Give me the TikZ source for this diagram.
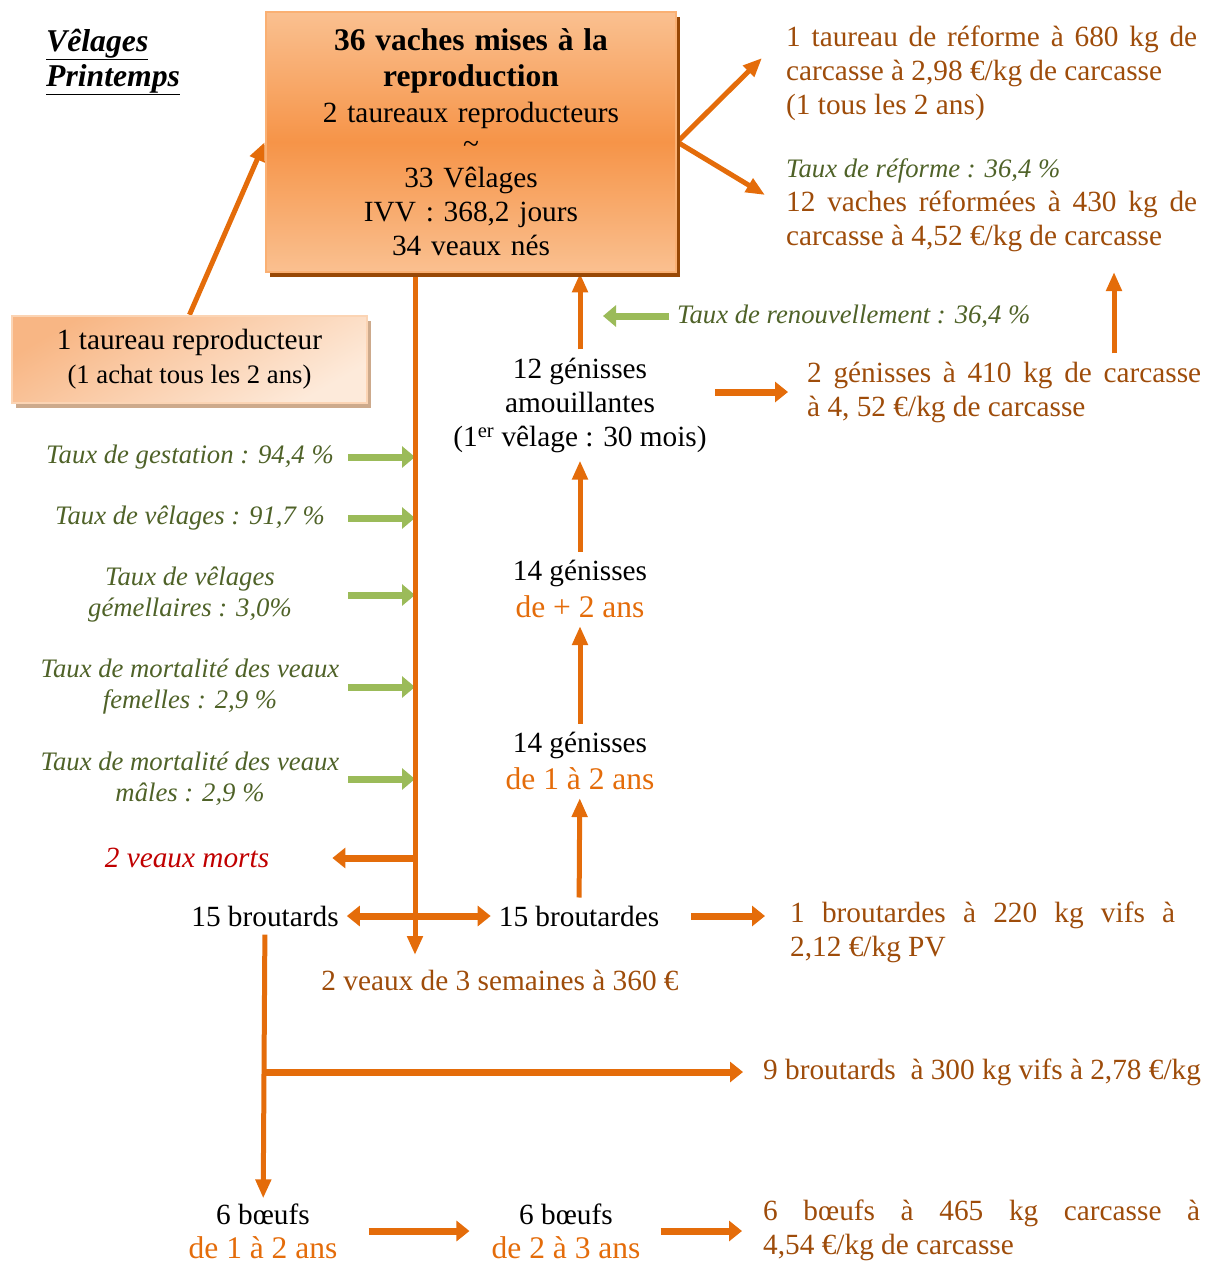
\documentclass[tikz,border=0pt]{standalone}
\usepackage{fontspec}
\setmainfont{Liberation Serif}
\usetikzlibrary{arrows.meta,shadows,backgrounds}

\definecolor{floworange}{RGB}{228,108,10}
\definecolor{salebrown}{RGB}{158,76,10}
\definecolor{rategreen}{RGB}{79,98,40}
\definecolor{cuegreen}{RGB}{155,187,89}
\definecolor{deadred}{RGB}{192,0,0}
\definecolor{herdlight}{RGB}{250,192,144}
\definecolor{herdmid}{RGB}{246,148,72}
\definecolor{herdedge}{RGB}{250,176,115}
\definecolor{herdshadow}{RGB}{152,72,6}
\definecolor{bullpeach}{RGB}{248,182,132}
\definecolor{bulllight}{RGB}{253,234,218}
\definecolor{bulledge}{RGB}{251,212,180}
\definecolor{bullshadow}{RGB}{205,170,140}

\newcommand{\spreadline}[2]{\makebox[#1][s]{#2}}
\newcommand{\herdhead}[1]{{\fontsize{31.5}{36}\selectfont\bfseries #1}}
\newcommand{\agespan}[1]{{\fontsize{31.5}{37}\selectfont\color{floworange}#1}}

\begin{document}
\begin{tikzpicture}[
    x=1pt, y=-1pt,
    every node/.style={inner sep=8pt, font=\fontsize{29.3}{34}\selectfont},
    count/.style={align=center},
    sale/.style={align=left, anchor=west, text=salebrown},
    rate/.style={align=center, text=rategreen, font=\fontsize{26.7}{31}\selectfont\itshape},
    flow/.style={draw=floworange, line width=5pt, -{Triangle[length=19pt,width=15pt]}},
    push/.style={draw=floworange, line width=7pt, -{Triangle[length=13pt,width=20pt]}},
    twoway/.style={push, {Triangle[length=13pt,width=20pt]}-{Triangle[length=13pt,width=20pt]}},
    cue/.style={draw=cuegreen, line width=7pt, -{Triangle[length=13pt,width=21pt]}}
]
\useasboundingbox (0,0) rectangle (1211,1266);

\node[align=left, anchor=west, inner sep=0pt,
      font=\fontsize{31.7}{35}\selectfont\bfseries\itshape] (season) at (46,62)
    {\underline{Vêlages}\\\underline{Printemps}};

\node[draw=herdedge, line width=2.5pt,
      top color=herdlight, bottom color=herdlight, middle color=herdmid,
      minimum width=410pt, minimum height=260pt, text width=400pt,
      align=center, inner sep=0pt,
      drop shadow={shadow xshift=4pt, shadow yshift=-5pt, fill=herdshadow, opacity=1}]
    (herd) at (471,142) {
    \herdhead{36 vaches mises à la}\\[2pt]
    \herdhead{reproduction}\\[2pt]
    2 taureaux reproducteurs\\[-3pt]
    \textasciitilde\\
    33 Vêlages\\
    IVV : 368,2 jours\\
    34 veaux nés
};

\node[draw=bulledge, line width=2.5pt,
      top color=bullpeach, bottom color=bulllight, shading angle=30,
      minimum width=355pt, minimum height=87pt, align=center,
      drop shadow={shadow xshift=4pt, shadow yshift=-5pt, fill=bullshadow, opacity=1}]
    (bull) at (189.5,359.5) {
    1 taureau reproducteur\\
    {\fontsize{26.7}{31}\selectfont (1 achat tous les 2 ans)}
};

% ventes et réformes
\node[sale] (cullbull) at (778,73) {
    \spreadline{411pt}{1 taureau de réforme à 680 kg de}\\
    carcasse à 2,98 €/kg de carcasse\\
    (1 tous les 2 ans)
};
\node[sale] (cullcows) at (778,205) {
    {\color{rategreen}\itshape\fontsize{26.7}{31}\selectfont Taux de réforme : 36,4 \%}\\
    \spreadline{411pt}{12 vaches réformées à 430 kg de}\\
    carcasse à 4,52 €/kg de carcasse
};
\node[rate, anchor=west] (renewal) at (669,316) {Taux de renouvellement : 36,4 \%};
\node[sale] (soldheifers) at (799,392) {
    \spreadline{394pt}{2 génisses à 410 kg de carcasse}\\
    à 4, 52 €/kg de carcasse
};

% génisses
\node[count] (heifers12) at (580,405) {12 génisses\\ amouillantes\\ (1\textsuperscript{er} vêlage : 30 mois)};
\node[count] (older) at (580,589) {14 génisses\\[3pt] \agespan{de + 2 ans}};
\node[count] (young) at (580,761) {14 génisses\\[3pt] \agespan{de 1 à 2 ans}};

% taux
\node[rate] (gestation) at (190,457) {Taux de gestation : 94,4 \%};
\node[rate] (calving) at (190,518) {Taux de vêlages : 91,7 \%};
\node[rate] (twins) at (190,595) {Taux de vêlages\\ gémellaires : 3,0\%};
\node[rate] (femdeath) at (190,687) {Taux de mortalité des veaux\\ femelles : 2,9 \%};
\node[rate] (maledeath) at (190,779) {Taux de mortalité des veaux\\ mâles : 2,9 \%};

% veaux
\node[text=deadred, font=\fontsize{29.3}{34}\selectfont\itshape] (dead) at (187,858) {2 veaux morts};
\node (bullcalves) at (265,916) {15 broutards};
\node (heifercalves) at (579,916) {15 broutardes};
\node[sale] (soldcalves) at (782,932) {
    \spreadline{385pt}{1 broutardes à 220 kg vifs à}\\
    2,12 €/kg PV
};
\node[text=salebrown] (youngcalves) at (500,980) {2 veaux de 3 semaines à 360 €};
\node[sale] (soldbulls) at (755,1072) {9 broutards\ \ à 300 kg vifs à 2,78 €/kg};

% boeufs
\node[count, inner ysep=1pt] (steers1) at (263,1231) {6 bœufs\\ \agespan{de 1 à 2 ans}};
\node[count, inner ysep=1pt] (steers2) at (566,1231) {6 bœufs\\ \agespan{de 2 à 3 ans}};
\node[sale] (soldsteers) at (755,1230) {
    \spreadline{437pt}{6 bœufs à 465 kg carcasse à}\\
    4,54 €/kg de carcasse
};

\coordinate (spine) at (415,955);
\coordinate (cuestart) at (348,0);
\coordinate (tobull) at (762,58);
\coordinate (tocows) at (765,195);
\coordinate (renew) at (603,316);
\coordinate (upcull) at (1114,272);

\begin{scope}[on background layer]
\foreach \cuename in {gestation,calving,twins,femdeath,maledeath}
    \draw[cue] (\cuename -| cuestart) -- (\cuename -| spine);
\draw[flow] (herd.south -| spine) -- (spine);
\draw[flow] (bull.north) -- (herd.west);
\draw[flow] (herd.east) -- (tobull);
\draw[flow] (herd.east) -- (tocows);
\draw[cue] (renewal) -- (renew);
\draw[flow] (heifers12.north) -- (heifers12.north |- herd.south);
\draw[push, shorten >=11pt] (heifers12.east |- soldheifers.west) -- (soldheifers.west);
\draw[flow] (soldheifers.north -| upcull) -- (upcull);
\draw[flow] (older) -- (heifers12);
\draw[flow] (young) -- (older);
\draw[flow] (heifercalves) -- (young);
\draw[push, shorten >=55pt] (dead -| spine) -- (dead.east);
\draw[twoway] (bullcalves) -- (heifercalves);
\draw[push, shorten <=24pt, shorten >=17pt] (heifercalves) -- (heifercalves -| soldcalves.west);
\draw[flow, shorten >=4pt] (bullcalves) -- (steers1);
\draw[push, shorten >=12pt] (bullcalves.south |- soldbulls.west) -- (soldbulls.west);
\draw[push, shorten <=23pt, shorten >=14pt] (steers1) -- (steers2);
\draw[push, shorten <=12pt, shorten >=13pt] (steers2) -- (steers2 -| soldsteers.west);
\end{scope}
\end{tikzpicture}
\end{document}
